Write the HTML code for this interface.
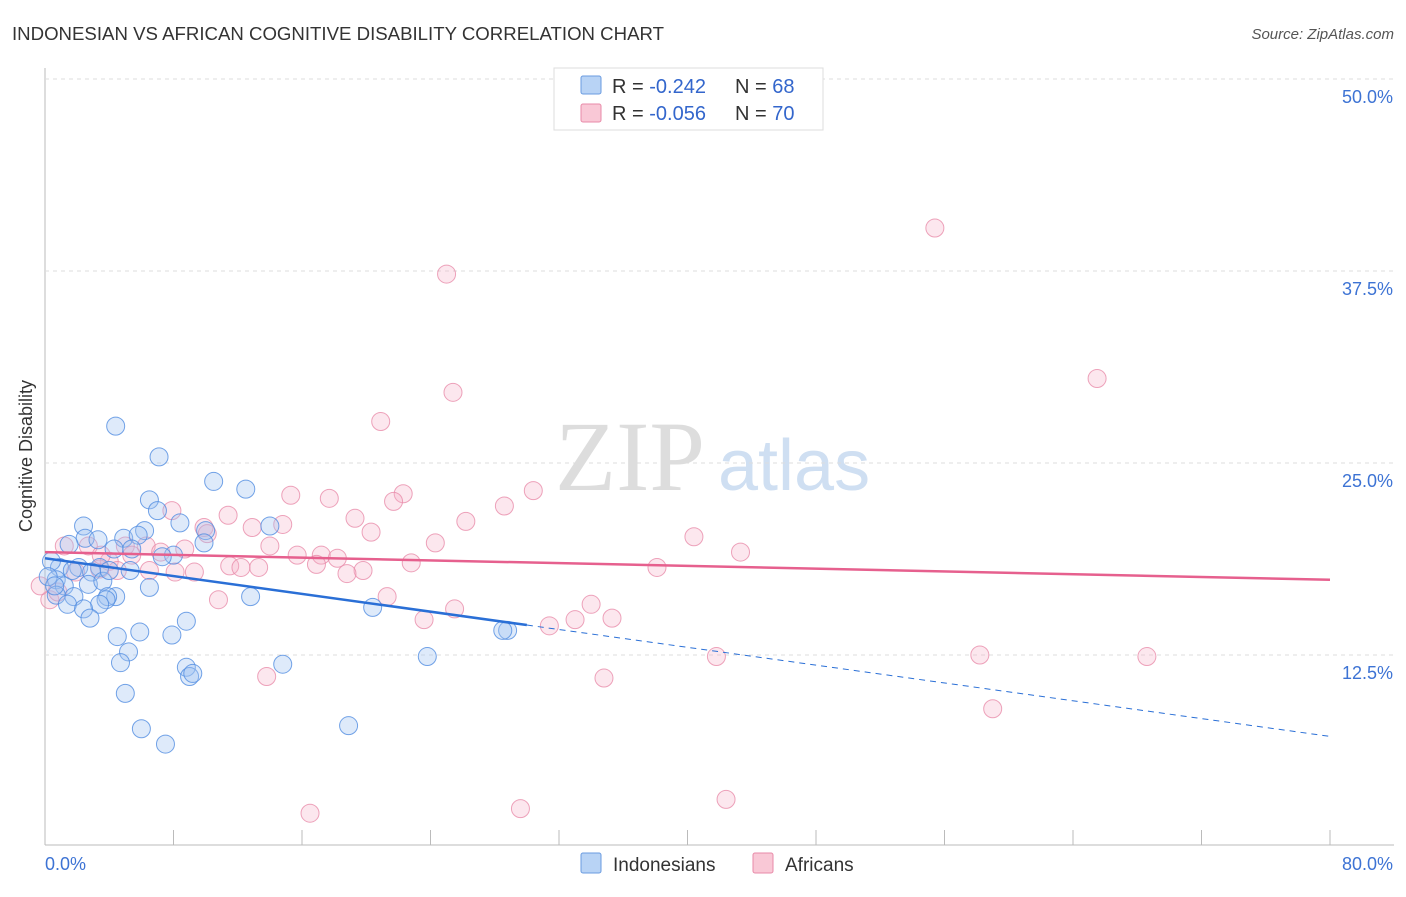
<!DOCTYPE html>
<html><head><meta charset="utf-8"><style>
body{margin:0;background:#fff;font-family:"Liberation Sans",sans-serif}
</style></head><body>
<svg id="c" width="1406" height="892" xmlns="http://www.w3.org/2000/svg">
<text x="12" y="40" font-size="18" fill="#333" textLength="652" lengthAdjust="spacingAndGlyphs">INDONESIAN VS AFRICAN COGNITIVE DISABILITY CORRELATION CHART</text>
<text x="1394" y="39" font-size="15" fill="#555" font-style="italic" text-anchor="end">Source: ZipAtlas.com</text>
<text x="32" y="456" font-size="18" fill="#333" text-anchor="middle" transform="rotate(-90 32 456)">Cognitive Disability</text>
<text x="555" y="490" font-size="100" fill="#ddd" font-family="Liberation Serif">ZIP</text>
<text x="718" y="490" font-size="72" fill="#cfdff2">atlas</text>
<g id="grid"></g><g id="pts"></g><g id="lines"></g>
<g>
<rect x="554" y="68" width="269" height="62" fill="#fff" stroke="#ddd"/>
<rect x="581" y="76" width="20" height="18" fill="#b8d3f5" stroke="#6a9be0" rx="2"/>
<rect x="581" y="104" width="20" height="18" fill="#f9c8d6" stroke="#e88aa8" rx="2"/>
<text x="612" y="93" font-size="20" fill="#333">R = <tspan fill="#3366cc">-0.242</tspan></text>
<text x="735" y="93" font-size="20" fill="#333">N = <tspan fill="#3366cc">68</tspan></text>
<text x="612" y="120" font-size="20" fill="#333">R = <tspan fill="#3366cc">-0.056</tspan></text>
<text x="735" y="120" font-size="20" fill="#333">N = <tspan fill="#3366cc">70</tspan></text>
</g>
<g>
<rect x="581" y="853" width="20" height="20" fill="#b8d3f5" stroke="#6a9be0" rx="2"/>
<text x="613" y="871" font-size="19" fill="#333">Indonesians</text>
<rect x="753" y="853" width="20" height="20" fill="#f9c8d6" stroke="#e88aa8" rx="2"/>
<text x="785" y="871" font-size="19" fill="#333">Africans</text>
</g>
</svg>
<script>
const yTicks=[12.5,25,37.5,50];
const yTickLabels=["12.5%","25.0%","37.5%","50.0%"];
const xLabels=["0.0%","80.0%"];
const blueX=[4.4,7.1,10.5,12.5,6.5,7.0,8.4,2.4,14.0,6.2,10.0,2.5,4.9,5.8,3.3,9.9,1.5,4.3,5.4,8.0,7.3,0.9,3.4,0.4,2.1,2.9,5.3,0.7,2.7,3.6,6.5,1.2,0.7,4.4,1.8,3.9,12.8,3.8,1.4,3.4,2.4,20.4,2.8,8.8,5.9,4.5,7.9,28.8,28.5,5.2,4.7,8.8,14.8,23.8,9.0,9.2,5.0,6.0,18.9,7.5,0.2,0.6,1.7,4.0];
const blueY=[27.4,25.4,23.8,23.3,22.6,21.9,21.1,20.9,20.9,20.6,20.6,20.1,20.1,20.3,20.0,19.8,19.7,19.4,19.4,19.0,18.9,18.2,18.2,18.6,18.2,17.9,18.0,17.4,17.1,17.3,16.9,17.0,16.4,16.3,16.3,16.3,16.3,16.1,15.8,15.8,15.5,15.6,14.9,14.7,14.0,13.7,13.8,14.1,14.1,12.7,12.0,11.7,11.9,12.4,11.1,11.3,10.0,7.7,7.9,6.7,17.6,17.0,18.0,18.0];
const pinkX=[55.4,25.0,65.5,25.4,20.9,30.4,22.3,15.3,17.7,21.7,28.6,7.9,11.4,19.3,26.2,14.8,20.3,12.9,9.9,10.1,40.4,24.3,43.3,8.7,5.0,2.7,1.2,6.3,7.2,5.4,17.2,15.7,18.2,22.8,4.0,11.5,13.3,12.2,16.9,19.8,18.8,8.1,9.3,38.1,3.4,21.3,10.8,34.0,25.5,33.0,35.3,23.6,31.4,13.8,34.8,41.8,58.2,68.6,59.0,16.5,29.6,42.4,0.3,1.9,0.8,4.5,6.5,3.5,14.0,-0.3];
const pinkY=[40.3,37.3,30.5,29.6,27.7,23.2,23.0,22.9,22.7,22.5,22.2,21.9,21.6,21.4,21.2,21.0,20.5,20.8,20.8,20.4,20.2,19.8,19.2,19.4,19.6,19.6,19.6,19.6,19.2,19.0,19.0,19.0,18.8,18.5,18.6,18.3,18.2,18.2,18.4,18.0,17.8,17.9,17.9,18.2,18.1,16.3,16.1,15.8,15.5,14.8,14.9,14.8,14.4,11.1,11.0,12.4,12.5,12.4,9.0,2.2,2.5,3.1,16.1,17.9,16.6,18.0,18.0,19.0,19.6,17.0];
const blueTrend=[18.8,7.2], pinkTrend=[19.2,17.4], blueSolidEnd=30;
const X=v=>45+v/80*1285, Y=v=>847-v/12.5*192;
const NS="http://www.w3.org/2000/svg";
function mk(p,t,a){const e=document.createElementNS(NS,t);for(const k in a)e.setAttribute(k,a[k]);p.appendChild(e);return e;}
const grid=document.getElementById('grid');
mk(grid,'line',{x1:45,y1:68,x2:45,y2:845,stroke:'#bbb'});
mk(grid,'line',{x1:45,y1:845,x2:1394,y2:845,stroke:'#bbb'});
for(let i=1;i<=10;i++){const x=45+i*128.5;mk(grid,'line',{x1:x,y1:830,x2:x,y2:845,stroke:'#bbb'});}
yTicks.forEach((t,i)=>{
 const l=mk(grid,'line',{x1:45,y1:Y(t),x2:1394,y2:Y(t),stroke:'#ddd','stroke-dasharray':'4 4'});
 
 
 const tx=mk(grid,'text',{x:1393,y:Y(t)+24,'font-size':18,fill:'#3d73d4','text-anchor':'end'});
 tx.textContent=yTickLabels[i];
 
 
});
const l0=mk(grid,'text',{x:45,y:870,'font-size':18,fill:'#3d73d4'});l0.textContent=xLabels[0];


const l1=mk(grid,'text',{x:1393,y:870,'font-size':18,fill:'#3d73d4','text-anchor':'end'});l1.textContent=xLabels[1];


const pts=document.getElementById('pts');
pinkX.forEach((v,i)=>{const c=mk(pts,'circle',{cx:X(v),cy:Y(pinkY[i]),r:9,fill:'rgba(246,175,199,0.3)',stroke:'rgba(232,140,170,0.8)','stroke-width':1});
 
 });
blueX.forEach((v,i)=>{const c=mk(pts,'circle',{cx:X(v),cy:Y(blueY[i]),r:9,fill:'rgba(160,196,240,0.35)',stroke:'rgba(80,140,225,0.8)','stroke-width':1});
 
 });
const ln=document.getElementById('lines');
const by=x=>blueTrend[0]+(blueTrend[1]-blueTrend[0])*x/80;
const a=mk(ln,'line',{x1:X(0),y1:Y(by(0)),x2:X(blueSolidEnd),y2:Y(by(blueSolidEnd)),stroke:'#2a6fd6','stroke-width':2.5});


const b=mk(ln,'line',{x1:X(blueSolidEnd),y1:Y(by(blueSolidEnd)),x2:X(80),y2:Y(by(80)),stroke:'#2a6fd6','stroke-width':1,'stroke-dasharray':'6 5'});


const p=mk(ln,'line',{x1:X(0),y1:Y(pinkTrend[0]),x2:X(80),y2:Y(pinkTrend[1]),stroke:'#e6608e','stroke-width':2.5});


</script>
</body></html>
